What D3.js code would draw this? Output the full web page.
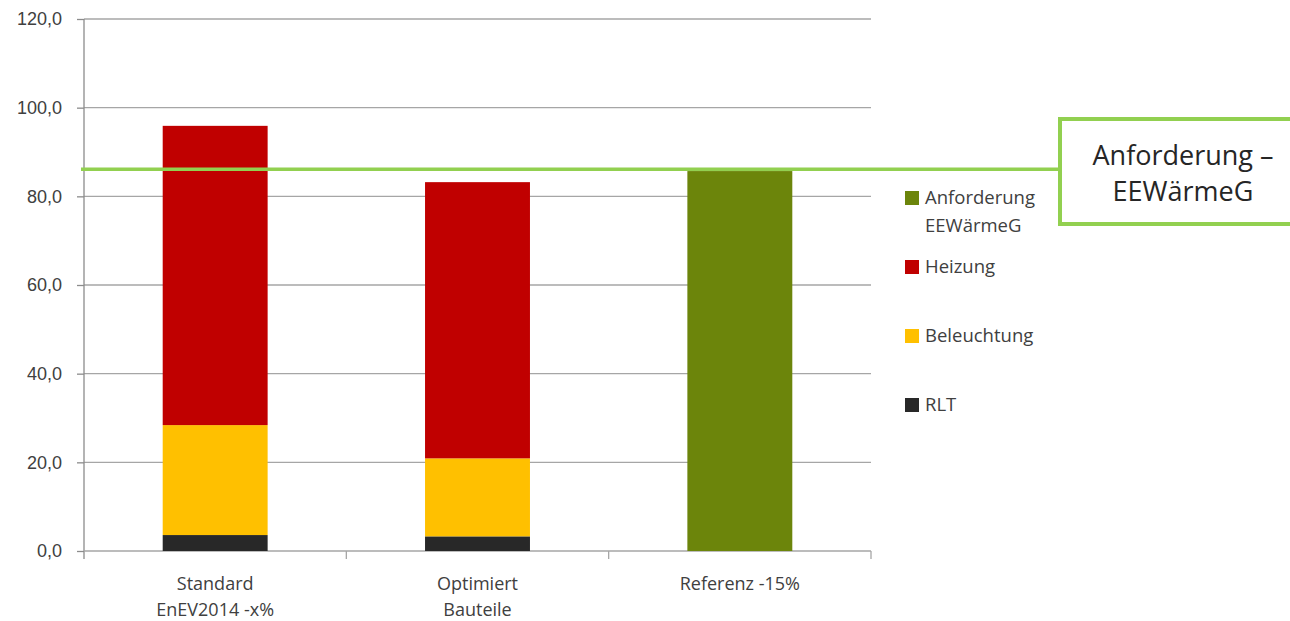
<!DOCTYPE html>
<html>
<head>
<meta charset="utf-8">
<script src="https://cdn.jsdelivr.net/npm/d3@7"></script>
<style>
	body { margin: 0; background: #fff; }
	svg { display: block; font-family: 'Open Sans', sans-serif; }
	.axis text { fill: #404040; font-size: 18px; }
</style>
</head>
<body>
<svg id="chart" width="1290" height="621"></svg>
<script>
const categories = [['Standard', 'EnEV2014 -x%'], ['Optimiert', 'Bauteile'], ['Referenz -15%']];
const seriesNames = ['RLT', 'Beleuchtung', 'Heizung', 'Anforderung EEWärmeG'];
const rlt = [3.6, 3.3, 0];
const beleuchtung = [24.8, 17.6, 0];
const heizung = [67.5, 62.3, 0];
const anforderung = [0, 0, 85.7];
const requirementLine = 86.1;
const yTicks = [0, 20, 40, 60, 80, 100, 120];
const legendLabels = [['Anforderung', 'EEWärmeG'], ['Heizung'], ['Beleuchtung'], ['RLT']];
const legendKeys = ['Anforderung EEWärmeG', 'Heizung', 'Beleuchtung', 'RLT'];
const calloutLines = ['Anforderung –', 'EEWärmeG'];

const colors = {
	'RLT': '#282828',
	'Beleuchtung': '#ffc000',
	'Heizung': '#c00000',
	'Anforderung EEWärmeG': '#6c850b'
};
const LINE_GREEN = '#92d050';

const margin = { top: 19, left: 84 };
const width = 787;
const height = 532;

const svg = d3.select('#chart');
const g = svg.append('g').attr('transform', `translate(${margin.left}, ${margin.top})`);

const x = d3.scaleBand(d3.range(categories.length), [0, width])
	.paddingInner(0.6)
	.paddingOuter(0.3);
const step = x.step();
const y = d3.scaleLinear([0, 120], [height, 0]);

/** GRID + LEFT AXIS ********************************************************/
const leftAxis = d3.axisLeft(y)
	.tickValues(yTicks)
	.tickSize(7)
	.tickFormat((d) => d3.format('.1f')(d).replace('.', ','));

g.append('g')
	.attr('class', 'grid')
	.selectAll('line')
	.data(yTicks.filter((d) => d > 0))
	.enter()
	.append('line')
	.attr('x1', 0)
	.attr('x2', width)
	.attr('y1', (d) => y(d))
	.attr('y2', (d) => y(d))
	.attr('stroke', '#a6a6a6')
	.attr('stroke-width', 1.3);

const yAxisG = g.append('g').attr('class', 'axis').call(leftAxis);
yAxisG.select('.domain').remove();
yAxisG.selectAll('line').attr('stroke', '#8c8c8c').attr('stroke-width', 1.3);
yAxisG.selectAll('text').attr('x', -22);
g.append('line')
	.attr('x1', 0).attr('x2', 0)
	.attr('y1', 0).attr('y2', height + 8)
	.attr('stroke', '#8c8c8c')
	.attr('stroke-width', 1.3);

/** BOTTOM AXIS *************************************************************/
const xAxisG = g.append('g')
	.attr('class', 'axis')
	.attr('transform', `translate(0, ${height})`);
xAxisG.append('line')
	.attr('x1', 0).attr('x2', width)
	.attr('stroke', '#a6a6a6')
	.attr('stroke-width', 1.3);
xAxisG.selectAll('.tick-x')
	.data(d3.range(1, categories.length + 1))
	.enter()
	.append('line')
	.attr('x1', (d) => d * step)
	.attr('x2', (d) => d * step)
	.attr('y1', 0)
	.attr('y2', 8)
	.attr('stroke', '#a6a6a6')
	.attr('stroke-width', 1.3);
xAxisG.selectAll('.cat')
	.data(categories)
	.enter()
	.append('text')
	.attr('text-anchor', 'middle')
	.attr('x', (d, i) => x(i) + x.bandwidth() / 2)
	.each(function (d) {
		d3.select(this)
			.selectAll('tspan')
			.data(d)
			.enter()
			.append('tspan')
			.attr('x', d3.select(this).attr('x'))
			.attr('y', (t, j) => 39 + j * 26)
			.text((t) => t);
	});

/** BARS ********************************************************************/
const tableData = categories.map((c, i) => ({
	'RLT': rlt[i],
	'Beleuchtung': beleuchtung[i],
	'Heizung': heizung[i],
	'Anforderung EEWärmeG': anforderung[i]
}));
const stacked = d3.stack().keys(seriesNames)(tableData);

g.append('g')
	.selectAll('g')
	.data(stacked)
	.enter()
	.append('g')
	.attr('fill', (d) => colors[d.key])
	.selectAll('rect')
	.data((d) => d)
	.enter()
	.filter((d) => d[1] - d[0] > 0)
	.append('rect')
	.attr('x', (d) => x(tableData.indexOf(d.data)))
	.attr('width', x.bandwidth())
	.attr('y', (d) => y(d[1]))
	.attr('height', (d) => y(d[0]) - y(d[1]));

/** REQUIREMENT LINE + CALLOUT **********************************************/
const lineY = y(requirementLine);
const boxLeft = 1060 - margin.left;
g.append('line')
	.attr('x1', -3)
	.attr('x2', boxLeft)
	.attr('y1', lineY)
	.attr('y2', lineY)
	.attr('stroke', LINE_GREEN)
	.attr('stroke-width', 3.5);

g.append('rect')
	.attr('x', boxLeft)
	.attr('y', 119 - margin.top)
	.attr('width', 260)
	.attr('height', 105)
	.attr('fill', '#fff')
	.attr('stroke', LINE_GREEN)
	.attr('stroke-width', 4);

g.append('text')
	.attr('text-anchor', 'middle')
	.attr('fill', '#262626')
	.attr('font-size', 27)
	.selectAll('tspan')
	.data(calloutLines)
	.enter()
	.append('tspan')
	.attr('x', 1183 - margin.left)
	.attr('y', (d, i) => 165 - margin.top + i * 36)
	.text((d) => d);

/** LEGEND ******************************************************************/
const legend = svg.append('g').attr('transform', 'translate(905, 198)');
const items = legend.selectAll('g')
	.data(legendKeys)
	.enter()
	.append('g')
	.attr('transform', (d, i) => `translate(0, ${i * 69})`);
items.append('rect')
	.attr('x', 0)
	.attr('y', -7)
	.attr('width', 14)
	.attr('height', 14)
	.attr('fill', (d) => colors[d]);
items.append('text')
	.attr('fill', '#404040')
	.attr('font-size', 18.5)
	.each(function (d, i) {
		d3.select(this)
			.selectAll('tspan')
			.data(legendLabels[i])
			.enter()
			.append('tspan')
			.attr('x', 20)
			.attr('y', (t, j) => 6 + j * 28)
			.text((t) => t);
	});
</script>
</body>
</html>
